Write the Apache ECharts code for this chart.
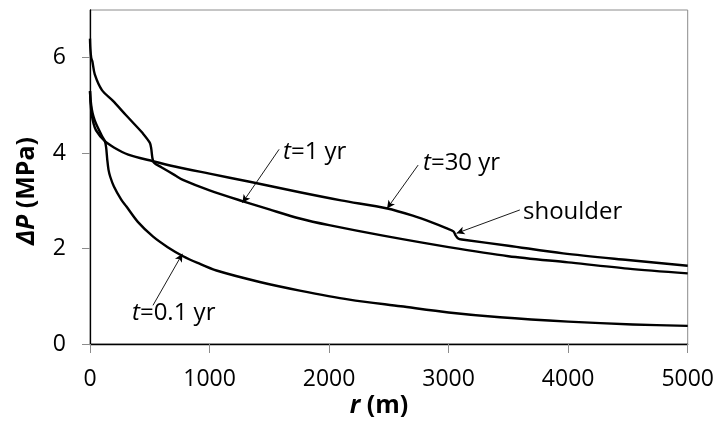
<!DOCTYPE html>
<html>
<head>
<meta charset="utf-8">
<script src="https://cdn.jsdelivr.net/npm/echarts@6/dist/echarts.min.js"></script>
<style>html,body{margin:0;padding:0;background:#fff}#c{width:717px;height:421px}</style>
</head>
<body>
<div id="c"></div>
<script>
// r (m) and ΔP (MPa)
var r01 = [0,5,15,30,50,100,125,135,145,155,170,200,260,305,400,528,650,779,900,1058,1420,1755,2170,2600,3000,3430,4000,4540,5000];
var p01 = [5.3,5.12,4.92,4.76,4.62,4.36,4.25,4.12,3.85,3.65,3.5,3.3,3.03,2.88,2.56,2.25,2.03,1.84,1.7,1.54,1.30,1.12,0.93,0.79,0.66,0.56,0.47,0.41,0.38];
var r1 = [0,3,10,20,40,100,190,300,374,440,500,512,522,535,600,709,777,1000,1280,1500,1755,2000,2452,3000,3500,4000,4500,5000];
var p1 = [6.4,6.2,6.0,5.92,5.65,5.32,5.1,4.8,4.6,4.42,4.22,4.1,3.9,3.8,3.7,3.54,3.44,3.22,2.99,2.82,2.63,2.49,2.27,2.03,1.84,1.71,1.58,1.48];
var r30 = [0,5,15,30,50,120,200,320,527,709,1000,1336,1755,2100,2487,2700,2870,2980,3040,3060,3080,3110,3500,3958,4500,5000];
var p30 = [5.3,5.05,4.8,4.62,4.48,4.26,4.12,3.97,3.83,3.72,3.57,3.40,3.18,3.01,2.84,2.69,2.54,2.43,2.36,2.27,2.21,2.19,2.06,1.90,1.76,1.64];
var xTicks = [0,1000,2000,3000,4000,5000];
var yTicks = [0,2,4,6];
// annotation arrows: [from r, from P, to r, to P]
var arrows = [[1582,4.08,1275,2.96],[2745,3.75,2485,2.84],[3596,2.81,3066,2.32],[527,0.81,773,1.89]];

function pairs(xs, ys){ return xs.map(function(x,i){ return [x, ys[i]]; }); }
var FONT = 'Open Sans';
var chart = echarts.init(document.getElementById('c'));
function lineSeries(name, xs, ys){
  return {name:name, type:'line', data:pairs(xs,ys), showSymbol:false, smooth:0.3,
    lineStyle:{color:'#000', width:2.4, join:'round'}, silent:true};
}
var s30 = lineSeries('t=30 yr', r30, p30);
s30.markLine = {silent:true, symbol:['none','arrow'], symbolSize:[6,8], label:{show:false},
  lineStyle:{color:'#000', width:0.9, type:'solid'},
  data: arrows.map(function(a){ return [{coord:[a[0],a[1]]},{coord:[a[2],a[3]]}]; })};
var AF = 24, TF = 25;
var rich = {i:{fontStyle:'italic', fontFamily:FONT, fontSize:AF, fill:'#000'}, n:{fontFamily:FONT, fontSize:AF, fill:'#000'}};
function ann(x, y, txt){
  return {type:'text', x:x, y:y, style:{text:txt, rich:rich, textAlign:'left', textVerticalAlign:'middle'}};
}
var trich = {i:{fontStyle:'italic', fontWeight:'bold', fontFamily:FONT, fontSize:TF, fill:'#000'}, n:{fontWeight:'bold', fontFamily:FONT, fontSize:TF, fill:'#000'}};
chart.setOption({
  animation:false,
  grid:{left:90, right:29, top:10, bottom:77, show:true, borderColor:'#8c8c8c', borderWidth:1},
  xAxis:{type:'value', min:0, max:5000, interval:1000,
    axisLine:{lineStyle:{color:'#000', width:1.3}},
    axisTick:{show:true, length:9, lineStyle:{color:'#8c8c8c'}, customValues:xTicks},
    axisLabel:{fontFamily:FONT, fontSize:23, color:'#000', margin:24, customValues:xTicks,
      formatter:function(v){ return String(v); }},
    splitLine:{show:false}},
  yAxis:{type:'value', min:0, max:7, interval:2,
    axisLine:{show:true, lineStyle:{color:'#000', width:1.3}},
    axisTick:{show:true, length:8, lineStyle:{color:'#8c8c8c'}, customValues:yTicks},
    axisLabel:{fontFamily:FONT, fontSize:23, color:'#000', margin:24, customValues:yTicks,
      formatter:function(v){ return String(v); }},
    splitLine:{show:false}},
  series:[lineSeries('t=0.1 yr', r01, p01), lineSeries('t=1 yr', r1, p1), s30],
  graphic:[
    {type:'text', x:27, y:191, rotation:Math.PI/2,
      style:{text:'{i|ΔP}{n| (MPa)}', rich:trich, textAlign:'center', textVerticalAlign:'middle'}},
    {type:'text', x:379, y:406,
      style:{text:'{i|r}{n| (m)}', rich:trich, textAlign:'center', textVerticalAlign:'middle'}},
    ann(283, 152, '{i|t}{n|=1 yr}'),
    ann(423, 163, '{i|t}{n|=30 yr}'),
    ann(523, 212, '{n|shoulder}'),
    ann(132, 313, '{i|t}{n|=0.1 yr}')
  ]
});
</script>
</body>
</html>
